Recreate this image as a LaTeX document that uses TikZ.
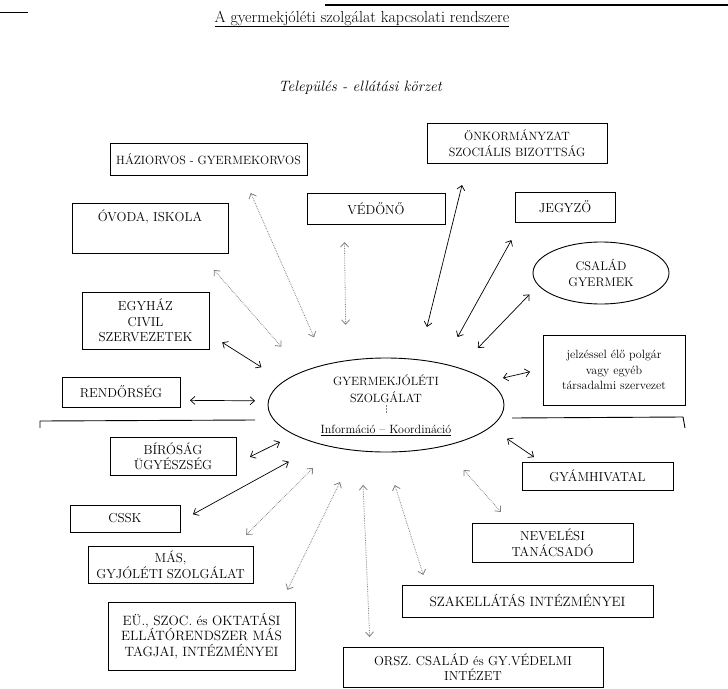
\documentclass[tikz,border=0pt]{standalone}
\usetikzlibrary{arrows.meta,shapes.geometric}
\begin{document}
\begin{tikzpicture}[
    x=1pt, y=-1pt,
    every node/.style={inner sep=2pt, outer sep=0pt, align=center, font=\fontsize{13}{15.5}\selectfont},
    fs/.style={font=\fontsize{#1}{15.5}\selectfont},
    box/.style 2 args={draw, line width=0.9pt, minimum width=#1pt, minimum height=#2pt},
    oval/.style 2 args={draw, ellipse, line width=0.9pt, inner sep=0pt, minimum width=#1pt, minimum height=#2pt},
    link/.style={{Straight Barb[length=4.5pt,width=8pt]}-{Straight Barb[length=4.5pt,width=8pt]}, line width=0.7pt},
    faint/.style={link, gray, densely dotted, line width=0.8pt},
    rule/.style={line width=0.9pt}
]
\useasboundingbox (0,0) rectangle (728,688);
\draw[rule, line width=1.2pt] (325,5) -- (728,5);
\draw[rule] (0,12) -- (28,12);
\node[font=\fontsize{16}{18}\selectfont] (title) at (362,19) {\underline{A gyermekjóléti szolgálat kapcsolati rendszere}};
\node[font=\fontsize{15}{17}\selectfont\itshape] (korzet) at (360,88) {Település - ellátási körzet};
\node[box={197}{32}, fs=12] (hazi) at (208.5,159) {HÁZIORVOS - GYERMEKORVOS};
\node[box={156}{50}, text height=15pt, text depth=29pt, inner ysep=3pt] (ovoda) at (150,228) {ÓVODA, ISKOLA};
\node[box={138}{31}] (vedono) at (376,208.5) {VÉDŐNŐ};
\node[box={180}{40}, fs=12] (onkorm) at (517,143) {ÖNKORMÁNYZAT\\SZOCIÁLIS BIZOTTSÁG};
\node[box={100}{30}] (jegyzo) at (565,207) {JEGYZŐ};
\node[oval={136}{62}, fs=12.5] (csalad) at (601,273) {CSALÁD\\GYERMEK};
\node[box={127}{57}] (egyhaz) at (145.5,320.5) {EGYHÁZ\\CIVIL\\SZERVEZETEK};
\node[box={118}{30}] (rendor) at (121,392) {RENDŐRSÉG};
\node[box={142}{70}, fs=12] (jelzes) at (614,370) {jelzéssel élő polgár\\vagy egyéb\\társadalmi szervezet};
\node[oval={236}{94}, font=\fontsize{12}{17}\selectfont] (szolg) at (386,405) {GYERMEKJÓLÉTI\\SZOLGÁLAT\\[14pt]\underline{Információ -- Koordináció}};
\node[box={126}{38}] (birosag) at (173,456) {BÍRÓSÁG\\ÜGYÉSZSÉG};
\node[box={151}{28}] (gyam) at (597.5,476) {GYÁMHIVATAL};
\node[box={110}{27}] (cssk) at (125,518.5) {CSSK};
\node[box={161}{39}] (neveles) at (552.5,542.5) {NEVELÉSI\\TANÁCSADÓ};
\node[box={165}{37}] (mas) at (170.5,564.5) {MÁS,\\GYJÓLÉTI SZOLGÁLAT};
\node[box={251}{32}, fs=13.5] (szak) at (527.5,601) {SZAKELLÁTÁS INTÉZMÉNYEI};
\node[box={187}{68}, fs=13.5] (eu) at (201.5,636) {EÜ., SZOC. és OKTATÁSI\\ELLÁTÓRENDSZER MÁS\\TAGJAI, INTÉZMÉNYEI};
\node[box={260}{40}] (orsz) at (473,667) {ORSZ. CSALÁD és GY.VÉDELMI\\INTÉZET};
\coordinate (balvege) at (40,428);
\coordinate (balsarok) at (40,421);
\coordinate (balszel) at (255,420);
\coordinate (jobbszel) at (512,418);
\coordinate (jobbsarok) at (683,417);
\coordinate (jobbvege) at (685,428);
\draw[rule] (balvege) -- (balsarok) -- (balszel);
\draw[rule] (jobbszel) -- (jobbsarok) -- (jobbvege);
\draw[densely dotted, gray] (szolg.center) -- ++(0,8);
\draw[faint, shorten <=19.6pt, shorten >=29.7pt] (hazi.-25.5) -- (szolg.146.3);
\draw[faint, shorten <=22.5pt, shorten >=33pt] (ovoda.-27.4) -- (szolg.158.6);
\draw[faint, shorten <=18pt, shorten >=35.9pt] (vedono.206.6) -- (szolg.132.9);
\draw[link, shorten <=22.7pt, shorten >=33.9pt] (onkorm.202.5) -- (szolg.54.05);
\draw[link, shorten <=20.7pt, shorten >=30.6pt] (jegyzo.199.3) -- (szolg.36.5);
\draw[link, shorten <=12.9pt, shorten >=27.7pt] (csalad.191.8) -- (szolg.27.6);
\draw[link, shorten <=15.6pt, shorten >=26.6pt] (egyhaz.-12.35) -- (szolg.167.7);
\draw[link, shorten <=10pt, shorten >=13.4pt] (rendor.-8.67) -- (szolg.178.05);
\draw[link, shorten <=13.3pt, shorten >=15.3pt] (jelzes.179.3) -- (szolg.13.07);
\draw[link, shorten <=15.65pt, shorten >=16.3pt] (birosag.-7.24) -- (szolg.198);
\draw[link, shorten <=8.9pt, shorten >=20.5pt] (gyam.166.9) -- (szolg.-12.96);
\draw[link, shorten <=14.8pt, shorten >=36.5pt] (cssk.-3.74) -- (szolg.211.7);
\draw[faint, shorten <=14.7pt, shorten >=31.5pt] (neveles.155.5) -- (szolg.-36.4);
\draw[faint, shorten <=15.7pt, shorten >=29.5pt] (mas.16.3) -- (szolg.219.1);
\draw[faint, shorten <=13.4pt, shorten >=35.2pt] (eu.23.1) -- (szolg.236.1);
\draw[faint, shorten <=10pt, shorten >=34pt] (orsz.169.8) -- (szolg.242.45);
\draw[faint, shorten <=10.5pt, shorten >=34.6pt] (szak.171) -- (szolg.268.4);
\end{tikzpicture}
\end{document}
